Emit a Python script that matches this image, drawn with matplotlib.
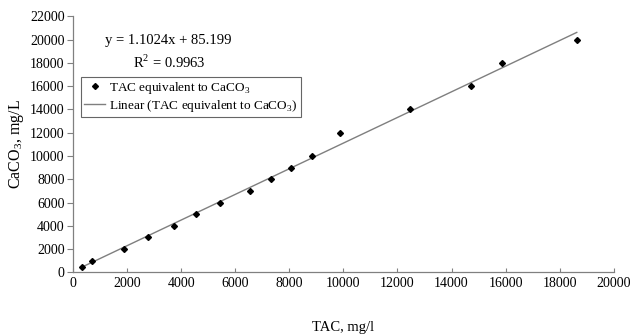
import matplotlib
matplotlib.use('Agg')
import matplotlib.pyplot as plt
import numpy as np

# data
tac = [344, 690, 1874, 2761, 3745, 4536, 5445, 6555, 7320, 8070, 8847,
       9871, 12447, 14725, 15871, 18632]
caco3 = [500, 1000, 2000, 3000, 4000, 5000, 6000, 7000, 8000, 9000, 10000,
         12000, 14000, 16000, 18000, 20000]
slope = 1.1024
intercept = 85.199
r2 = 0.9963

x_ticks = np.arange(0, 20001, 2000)
y_ticks = np.arange(0, 22001, 2000)

plt.rcParams['font.family'] = 'Liberation Serif'
plt.rcParams['mathtext.fontset'] = 'custom'
plt.rcParams['mathtext.rm'] = 'Liberation Serif'
plt.rcParams['font.size'] = 10

axis_grey = '#808080'

fig = plt.figure(figsize=(6.4, 3.35), dpi=100)
ax = fig.add_axes([0.114, 0.187, 0.845, 0.764])

# trendline over the data range
xl = np.array([min(tac), max(tac)])
ax.plot(xl, slope * xl + intercept, color='#7f7f7f', linewidth=1.0,
        label=r'Linear (TAC equivalent to CaCO$_{\mathrm{3}}$)', zorder=2)
ax.plot(tac, caco3, linestyle='none', marker='D', markersize=3.0,
        color='black', label=r'TAC equivalent to CaCO$_{\mathrm{3}}$', zorder=3)

ax.set_xlim(0, 20000)
ax.set_ylim(0, 22000)
ax.set_xticks(x_ticks)
ax.set_yticks(y_ticks)

for s in ['top', 'right']:
    ax.spines[s].set_visible(False)
for s in ['left', 'bottom']:
    ax.spines[s].set_color(axis_grey)
    ax.spines[s].set_linewidth(0.9)
ax.tick_params(axis='y', direction='out', length=4, color=axis_grey, pad=2,
               labelsize=10)
ax.tick_params(axis='x', direction='in', length=3, color=axis_grey, pad=3,
               labelsize=10)

ax.set_xlabel('TAC, mg/l', labelpad=23, fontsize=10.5)
ax.set_ylabel(r'CaCO$_{\mathrm{3}}$, mg/L', fontsize=11.5, labelpad=3)

# equation and R2 text
ax.text(0.176, 0.905, f'y = {slope}x + {intercept}', transform=ax.transAxes,
        ha='center', va='center', fontsize=10.5)
ax.text(0.178, 0.82, f'R$^{{\\mathrm{{2}}}}$ = {r2}', transform=ax.transAxes,
        ha='center', va='center', fontsize=10.5)

handles, labels = ax.get_legend_handles_labels()
leg = ax.legend(handles[::-1], labels[::-1], loc='upper left',
                bbox_to_anchor=(0.015, 0.765), frameon=True, fancybox=False,
                edgecolor='#404040', handlelength=1.6, handletextpad=0.3,
                borderpad=0.25, labelspacing=0.15, borderaxespad=0,
                fontsize=9.5)
leg.get_frame().set_linewidth(0.8)

plt.savefig('out.png', dpi=100)
plt.close()
